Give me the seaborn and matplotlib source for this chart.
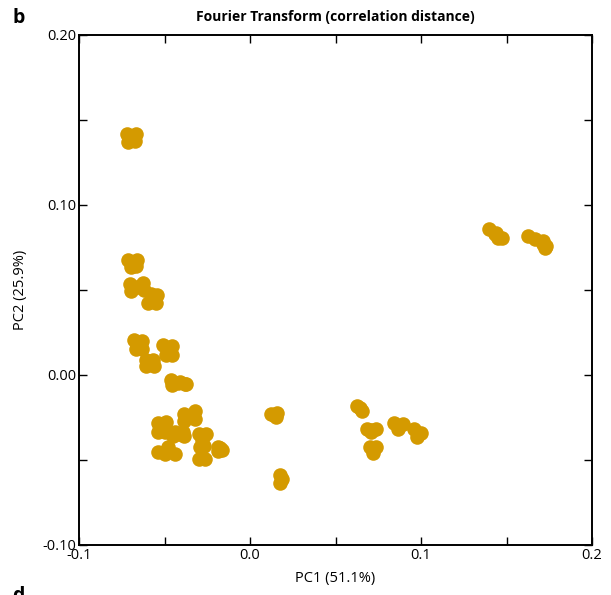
import matplotlib
matplotlib.use("Agg")
import matplotlib.pyplot as plt
import seaborn as sns
import pandas as pd
from matplotlib.ticker import MultipleLocator, FixedLocator

# Each cluster (blob) of PCA scores: lists of PC1 and PC2 values
pc1 = [
    -0.0719, -0.0667, -0.0713, -0.0673, -0.0696,
    -0.0713, -0.0661, -0.0696, -0.0667, -0.0690,
    -0.0702, -0.0626, -0.0696, -0.0620, -0.0661,
    -0.0579, -0.0544, -0.0596, -0.0550, -0.0567,
    -0.0678, -0.0632, -0.0667, -0.0632, -0.0655,
    -0.0509, -0.0456, -0.0491, -0.0456, -0.0480,
    -0.0608, -0.0567, -0.0608, -0.0561, -0.0585,
    -0.0462, -0.0409, -0.0374, -0.0456, -0.0380, -0.0421,
    -0.0538, -0.0491, -0.0538, -0.0497, -0.0515,
    -0.0386, -0.0322, -0.0386, -0.0322, -0.0351,
    -0.0439, -0.0392, -0.0450, -0.0386, -0.0415,
    -0.0480, -0.0538, -0.0439, -0.0497, -0.0491,
    -0.0298, -0.0257, -0.0292, -0.0269, -0.0281,
    -0.0298, -0.0263,
    -0.0187, -0.0164, -0.0187, -0.0175,
    0.0123, 0.0158, 0.0152, 0.0140,
    0.0175, 0.0175, 0.0187,
    0.0626, 0.0655, 0.0643,
    0.0684, 0.0737, 0.0708, 0.0708,
    0.0702, 0.0737, 0.0719, 0.0719,
    0.0842, 0.0895, 0.0866, 0.0866,
    0.0959, 0.1000, 0.0977, 0.0982,
    0.1398, 0.1439, 0.1474, 0.1450, 0.1433,
    0.1626, 0.1667, 0.1713, 0.1731, 0.1713, 0.1727,
]
pc2 = [
    0.1418, 0.1418, 0.1371, 0.1376, 0.1394,
    0.0677, 0.0677, 0.0635, 0.0641, 0.0653,
    0.0535, 0.0541, 0.0494, 0.0500, 0.0518,
    0.0477, 0.0471, 0.0424, 0.0424, 0.0447,
    0.0206, 0.0200, 0.0153, 0.0153, 0.0177,
    0.0177, 0.0171, 0.0118, 0.0118, 0.0147,
    0.0088, 0.0088, 0.0053, 0.0053, 0.0071,
    -0.0029, -0.0041, -0.0053, -0.0059, -0.0053, -0.0047,
    -0.0282, -0.0276, -0.0335, -0.0335, -0.0306,
    -0.0229, -0.0212, -0.0271, -0.0259, -0.0241,
    -0.0335, -0.0335, -0.0359, -0.0359, -0.0347,
    -0.0423, -0.0453, -0.0465, -0.0465, -0.0447,
    -0.0347, -0.0347, -0.0423, -0.0418, -0.0382,
    -0.0494, -0.0494,
    -0.0423, -0.0441, -0.0447, -0.0429,
    -0.0229, -0.0223, -0.0247, -0.0235,
    -0.0588, -0.0635, -0.0612,
    -0.0182, -0.0212, -0.0194,
    -0.0318, -0.0318, -0.0335, -0.0323,
    -0.0423, -0.0423, -0.0459, -0.0441,
    -0.0282, -0.0288, -0.0318, -0.0300,
    -0.0318, -0.0341, -0.0365, -0.0341,
    0.0859, 0.0835, 0.0806, 0.0806, 0.0829,
    0.0818, 0.0800, 0.0788, 0.0759, 0.0771, 0.0747,
]

x_major = [-0.1, 0.0, 0.1, 0.2]
x_labels = ["-0.1", "0.0", "0.1", "0.2"]
y_major = [-0.10, 0.00, 0.10, 0.20]
y_labels = ["-0.10", "0.00", "0.10", "0.20"]

df = pd.DataFrame({"PC1": pc1, "PC2": pc2})

sns.set_theme(style="white")
plt.rcParams["font.family"] = ["Open Sans", "DejaVu Sans"]

fig = plt.figure(figsize=(6.11, 5.95), dpi=100)
ax = fig.add_axes([79/611, 1-545/595, (592-79)/611, (545-35)/595])

sns.scatterplot(data=df, x="PC1", y="PC2", ax=ax, color="#D49A00",
                s=110, linewidth=0, marker="o", legend=False, zorder=3)

ax.set_xlim(-0.1, 0.2)
ax.set_ylim(-0.1, 0.2)
ax.xaxis.set_major_locator(FixedLocator(x_major))
ax.set_xticklabels(x_labels)
ax.yaxis.set_major_locator(FixedLocator(y_major))
ax.set_yticklabels(y_labels)
ax.xaxis.set_minor_locator(MultipleLocator(0.05))
ax.yaxis.set_minor_locator(MultipleLocator(0.05))

ax.tick_params(which="both", direction="in", top=True, right=True,
               bottom=True, left=True, color="black", width=1.0)
ax.tick_params(which="major", length=6, labelsize=10.5, pad=2, labelcolor="black")
ax.tick_params(which="minor", length=6)
for sp in ax.spines.values():
    sp.set_color("black")
    sp.set_linewidth(1.4)

ax.set_xlabel("PC1 (51.1%)", fontsize=10.5, labelpad=6, color="black")
ax.set_ylabel("PC2 (25.9%)", fontsize=10.5, labelpad=10, color="black")
ax.set_title("Fourier Transform (correlation distance)", fontsize=10,
             fontweight="bold", pad=10, color="black")

fig.text(12/611, 1-18/595, "b", fontsize=14, fontweight="bold",
         va="center", ha="left", color="black")
fig.text(12/611, 1-586/595, "d", fontsize=14, fontweight="bold",
         va="top", ha="left", color="black")

fig.savefig("out.png", dpi=100)
